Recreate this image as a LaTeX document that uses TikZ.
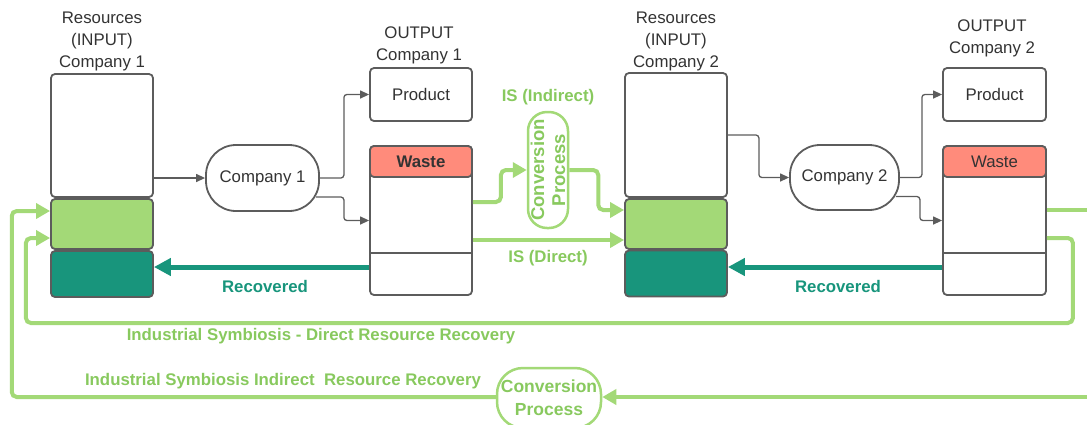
\documentclass[tikz,border=0pt]{standalone}
\usepackage{fontspec}
\setmainfont{Liberation Sans}
\usetikzlibrary{arrows.meta,calc}
\definecolor{lgreen}{HTML}{A3D977}
\definecolor{tgreen}{HTML}{88C95E}
\definecolor{dteal}{HTML}{18957C}
\definecolor{salmon}{HTML}{FF8B7B}
\definecolor{edge}{HTML}{5C5C5C}
\definecolor{ink}{HTML}{333333}
\tikzset{
  every node/.style={font=\fontsize{16.8}{22}\selectfont, text=ink, inner sep=0pt},
  box/.style={draw=edge, line width=1.8pt, rounded corners=4pt, fill=white},
  pill/.style={box, rounded corners=30pt},
  gpill/.style={draw=lgreen, line width=2.5pt, rounded corners=19pt, fill=white},
  conn/.style={draw=edge, line width=1.3pt, rounded corners=3pt, -{Triangle[length=9pt,width=8pt]}},
  garrow/.style={draw=lgreen, line width=4pt, rounded corners=5pt, -{Triangle[length=14pt,width=15pt]}},
  gline/.style={draw=lgreen, line width=4pt, rounded corners=5pt},
  tarrow/.style={draw=dteal, line width=5pt, -{Triangle[length=17pt,width=17pt]}},
  glabel/.style={font=\fontsize{16.8}{20}\selectfont\bfseries, text=tgreen},
  tlabel/.style={font=\fontsize{16.8}{20}\selectfont\bfseries, text=dteal},
  title/.style={align=center},
}
\begin{document}
\begin{tikzpicture}[x=1pt,y=-1pt]
\useasboundingbox (0,0) rectangle (1087,424);

% ---- Company 1: input stack ----
\node[title] (t1) at (102,41) {Resources\\(INPUT)\\Company 1};
\node[box, minimum width=102pt, minimum height=123pt] (in1w) at (102,135.5) {};
\node[box, fill=lgreen, minimum width=102pt, minimum height=50pt] (in1g) at (102,224) {};
\node[box, fill=dteal, minimum width=102pt, minimum height=46pt] (in1d) at (102,274) {};

% ---- Company 1: process and outputs ----
\node[pill, minimum width=113pt, minimum height=66pt] (p1) at (262.5,178) {Company 1};
\node[title] (o1) at (419,45) {OUTPUT\\Company 1};
\node[box, minimum width=102pt, minimum height=53pt] (prod1) at (421,94.5) {Product};
\node[box, minimum width=102pt, minimum height=149pt] (wb1) at (421,220.5) {};
\node[box, fill=salmon, minimum width=102pt, minimum height=31pt, font=\fontsize{16.8}{20}\selectfont\bfseries] (wh1) at (421,161.5) {Waste};
\draw[edge, line width=1.8pt] ([yshift=-32.5pt]wb1.west) -- ([yshift=-32.5pt]wb1.east);

% ---- Company 2: input stack ----
\node[title] (t2) at (676,41) {Resources\\(INPUT)\\Company 2};
\node[box, minimum width=102pt, minimum height=124pt] (in2w) at (676,135) {};
\node[box, fill=lgreen, minimum width=102pt, minimum height=50pt] (in2g) at (676,224) {};
\node[box, fill=dteal, minimum width=102pt, minimum height=46pt] (in2d) at (676,273.5) {};

% ---- Company 2: process and outputs ----
\node[pill, minimum width=109pt, minimum height=65pt] (p2) at (844.5,177.5) {Company 2};
\node[title] (o2) at (992,38) {OUTPUT\\Company 2};
\node[box, minimum width=103pt, minimum height=53pt] (prod2) at (994.5,94.5) {Product};
\node[box, minimum width=103pt, minimum height=149pt] (wb2) at (994.5,220.5) {};
\node[box, fill=salmon, minimum width=103pt, minimum height=31pt] (wh2) at (994.5,161.5) {Waste};
\draw[edge, line width=1.8pt] ([yshift=-32.5pt]wb2.west) -- ([yshift=-32.5pt]wb2.east);

% ---- conversion processes ----
\node[gpill, minimum width=40pt, minimum height=116pt] (vp) at (548,170) {};
\node[rotate=90, align=center, font=\fontsize{18.5}{21}\selectfont\bfseries, text=tgreen] (vpt) at (vp.center) {Conversion\\Process};
\node[gpill, rounded corners=26pt, minimum width=104pt, minimum height=60pt, align=center,
      font=\fontsize{17.5}{23}\selectfont\bfseries, text=tgreen] (bp) at (549,398) {Conversion\\Process};

% ---- grey flows through each company ----
\draw[conn] (in1w.east |- p1.west) -- (p1.west);
\draw[conn] (p1.east) -- ++(24,0) |- (prod1.west);
\draw[conn] ([xshift=-4pt,yshift=-19pt]p1.east) -- ++(28,0) |- (wb1.west);
\draw[conn] (in2w.east) -- ++(31,0) |- (p2.west);
\draw[conn] (p2.east) -- ++(22,0) |- (prod2.west);
\draw[conn] ([xshift=-4pt,yshift=-19pt]p2.east) -- ++(24,0) |- (wb2.west);

% ---- recovered resources ----
\draw[tarrow] ([yshift=-46.5pt]wb1.west) coordinate (r1) -- (r1 -| in1d.east);
\draw[tarrow] ([yshift=-46.5pt]wb2.west) coordinate (r2) -- (r2 -| in2d.east);
\node[tlabel] (rl1) at (265,286) {Recovered};
\node[tlabel] (rl2) at (838,286) {Recovered};

% ---- industrial symbiosis between the companies ----
\draw[garrow] ([yshift=-19.5pt]wb1.east) coordinate (d1) -- (d1 -| in2g.west);
\draw[garrow] ([yshift=18.5pt]wb1.east) -- ++(28,0) |- (vp.west);
\draw[garrow] (vp.east) -- ++(29,0) |- ([yshift=14pt]in2g.west);
\node[glabel] (isi) at (548,97) {IS (Indirect)};
\node[glabel] (isd) at (548,258) {IS (Direct)};

% ---- loops back to company 1 ----
\coordinate (re1) at (1092,210);
\coordinate (re2) at (1092,397);
\draw[gline] ([yshift=10.5pt]wb2.east) -- (re1);
\draw[garrow] ([yshift=-17.5pt]wb2.east) -- ++(26,0) -- ++(0,85) -- ++(-1047,0) |- ([yshift=-14pt]in1g.west);
\draw[garrow] (re2) -- (re2 -| bp.east);
\draw[garrow] (bp.west |- re2) -- ++(-484,0) |- ([yshift=13pt]in1g.west);
\node[glabel] (ld) at (321,336) {Industrial Symbiosis - Direct Resource Recovery};
\node[glabel] (li) at (283,381) {Industrial Symbiosis Indirect~ Resource Recovery};
\end{tikzpicture}
\end{document}
